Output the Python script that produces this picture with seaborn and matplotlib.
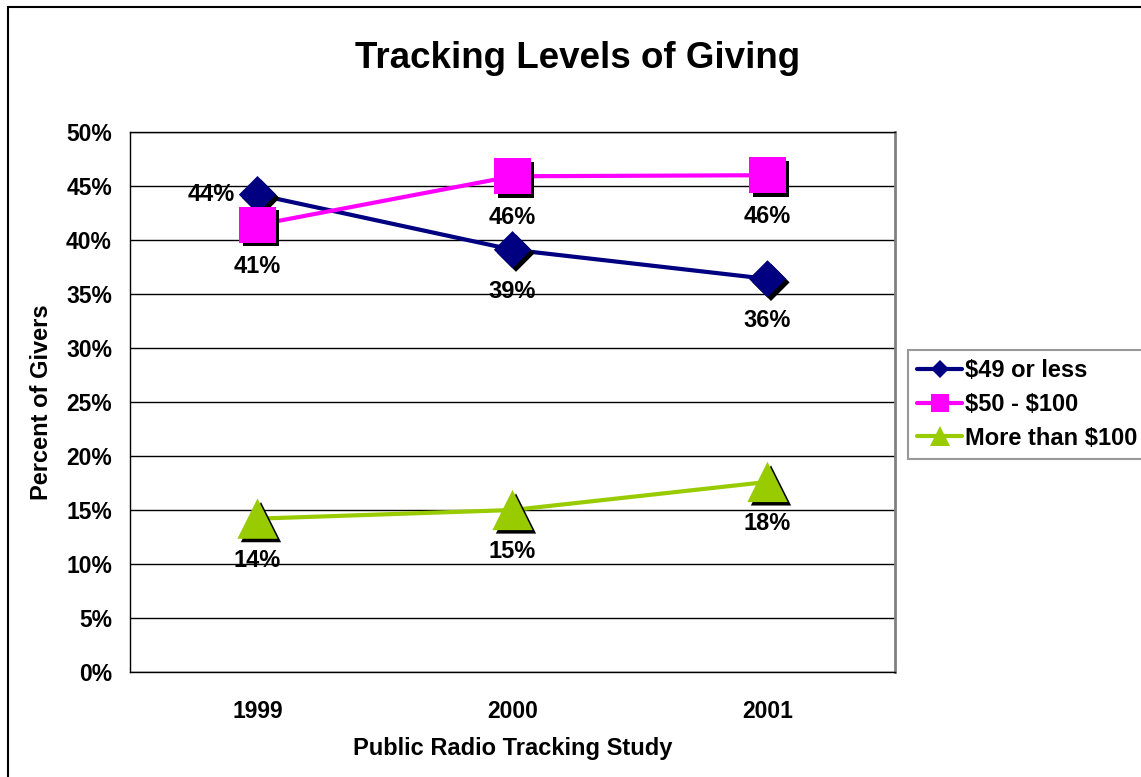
import pandas as pd
import matplotlib.pyplot as plt
import matplotlib.transforms as mtransforms
from matplotlib.lines import Line2D
from matplotlib.patches import Rectangle
import seaborn as sns

sns.set_style('white')
plt.rcParams['font.family'] = ['Liberation Sans', 'DejaVu Sans']
plt.rcParams['font.weight'] = 'bold'
plt.rcParams['text.parse_math'] = False
plt.rcParams['text.color'] = 'black'
plt.rcParams['xtick.color'] = 'black'
plt.rcParams['ytick.color'] = 'black'
plt.rcParams['axes.labelcolor'] = 'black'

# -------------------------
# Data
# -------------------------
years = [1999, 2000, 2001]
levels = ['$49 or less', '$50 - $100', 'More than $100']
low = [44.2, 39.1, 36.4]
mid = [41.4, 45.9, 46.0]
high = [14.2, 15.0, 17.6]
label_text = {
    '$49 or less': ['44%', '39%', '36%'],
    '$50 - $100': ['41%', '46%', '46%'],
    'More than $100': ['14%', '15%', '18%'],
}
yticks = list(range(0, 51, 5))

colors = {'$49 or less': '#000080', '$50 - $100': '#FF00FF', 'More than $100': '#99CC00'}
markers = {'$49 or less': 'D', '$50 - $100': 's', 'More than $100': '^'}
msize = {'$49 or less': 19, '$50 - $100': 26, 'More than $100': 29}

df = pd.DataFrame({
    'Year': years * 3,
    'Percent': low + mid + high,
    'Level': [levels[0]] * 3 + [levels[1]] * 3 + [levels[2]] * 3,
})

fig = plt.figure(figsize=(11.41, 7.77), dpi=100)
ax = fig.add_axes([130 / 1141, 1 - 672 / 777, 765 / 1141, 540 / 777])

# lines
sns.lineplot(data=df, x='Year', y='Percent', hue='Level', palette=colors,
             linewidth=3, legend=False, ax=ax, zorder=2)

# markers with shadows
shadow = ax.transData + mtransforms.ScaledTranslation(2.5 / 72, -2.5 / 72, fig.dpi_scale_trans)
for lvl in levels:
    sub = df[df['Level'] == lvl]
    sns.scatterplot(data=sub, x='Year', y='Percent', marker=markers[lvl], s=msize[lvl] ** 2,
                    color='black', edgecolor='none', linewidth=0, legend=False, ax=ax,
                    transform=shadow, zorder=3)
    sns.scatterplot(data=sub, x='Year', y='Percent', marker=markers[lvl], s=msize[lvl] ** 2,
                    color=colors[lvl], edgecolor='none', linewidth=0, legend=False, ax=ax,
                    zorder=4)
    for i, (x, y) in enumerate(zip(sub['Year'], sub['Percent'])):
        if lvl == '$49 or less' and i == 0:
            off = (-33, 0)
        else:
            off = (0, -30)
        ax.annotate(label_text[lvl][i], (x, y), xytext=off, textcoords='offset points',
                    ha='center', va='center', fontsize=17, fontweight='bold', zorder=5)

# axes styling
ax.set_xlim(1998.5, 2001.5)
ax.set_ylim(0, 50)
ax.set_yticks(yticks)
ax.set_yticklabels([f'{v}%' for v in yticks], fontsize=16.5, fontweight='bold')
ax.set_xticks(years)
ax.set_xticklabels([str(y) for y in years], fontsize=16.5, fontweight='bold')
ax.set_xticks([1998.5, 1999.5, 2000.5, 2001.5], minor=True)
ax.tick_params(axis='x', which='major', length=0, pad=20)
ax.tick_params(axis='x', which='minor', length=6, width=1, color='black', direction='out')
ax.tick_params(axis='y', length=6, width=1, color='black', direction='out', pad=7)
ax.yaxis.grid(True, color='black', linewidth=1)
ax.set_axisbelow(True)
for side in ['left', 'bottom', 'top']:
    ax.spines[side].set_color('black')
    ax.spines[side].set_linewidth(1)
ax.spines['right'].set_color('#808080')
ax.spines['right'].set_linewidth(2)

ax.set_xlabel('Public Radio Tracking Study', fontsize=17, fontweight='bold', labelpad=10)
ax.set_ylabel('Percent of Givers', fontsize=17, fontweight='bold', labelpad=9)
fig.text(578 / 1141, 1 - 58 / 777, 'Tracking Levels of Giving', ha='center', va='center',
         fontsize=26.5, fontweight='bold')

# legend
handles = [Line2D([0], [0], color=colors[l], linewidth=3, marker=markers[l],
                  markersize=msize[l] * 0.5, markeredgewidth=0) for l in levels]
leg = fig.legend(handles, levels, loc='upper left', bbox_to_anchor=(908 / 1141, 1 - 350 / 777),
                 fontsize=17, frameon=True, fancybox=False, handlelength=1.9,
                 handletextpad=0.1, borderpad=0.4, labelspacing=0.45, borderaxespad=0)
leg.get_frame().set_edgecolor('#808080')
leg.get_frame().set_linewidth(1.5)
for t in leg.get_texts():
    t.set_fontweight('bold')

# figure border
fig.patches.append(Rectangle((8 / 1141, -0.2), 1.5, 1.2 - 7 / 777, transform=fig.transFigure,
                             fill=False, edgecolor='black', linewidth=1.5))

fig.savefig('out.png', dpi=100)
